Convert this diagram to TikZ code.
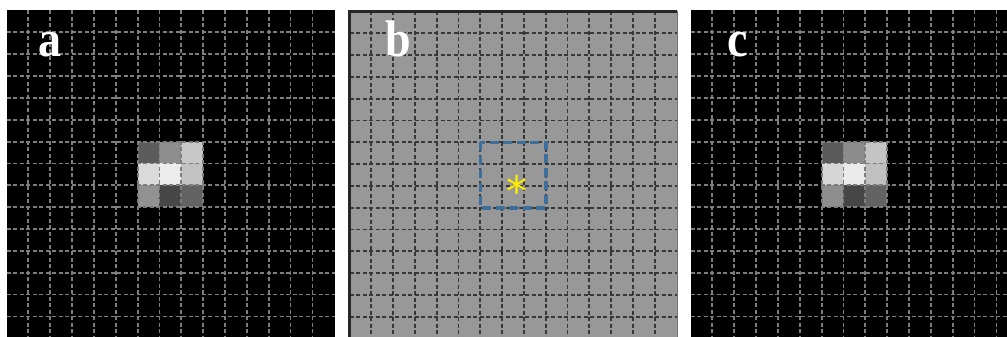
\documentclass[tikz,border=0pt]{standalone}
\usepackage{fontspec}
\setmainfont{Liberation Serif}
\newfontfamily\astfont{DejaVu Sans}
\definecolor{gridA}{RGB}{125,125,125}
\definecolor{gridB}{RGB}{55,55,55}
\definecolor{bgB}{RGB}{152,152,152}
\definecolor{boxblue}{RGB}{62,110,155}
\definecolor{staryellow}{RGB}{255,238,0}
\begin{document}
\begin{tikzpicture}[x=1pt,y=-1pt,
  gridline/.style={line width=1.8pt, dash pattern=on 4pt off 2.5pt},
  panellabel/.style={text=white, font=\fontsize{46}{46}\selectfont\bfseries, anchor=base, inner sep=0pt, yscale=1.12},
  roibox/.style={draw=boxblue, line width=3.6pt, dash pattern=on 9pt off 4.5pt}]
\useasboundingbox (0,0) rectangle (1007,337);
\clip (0,0) rectangle (1007,337);
% ---------- panel a ----------
\def\sa{21.85}
\fill[black] (6.5,10.5) rectangle (335,337);
\foreach \r/\c/\v in {0/0/92, 0/1/142, 0/2/200, 1/0/218, 1/1/236, 1/2/194, 2/0/146, 2/1/71, 2/2/98}{
  \fill[fill={rgb,255:red,\v;green,\v;blue,\v}]
    ({6.5+(6+\c)*\sa},{10.5+(6+\r)*\sa}) rectangle ++(\sa,\sa);
}
\foreach \i in {1,...,14}{
  \draw[gridline, gridA] ({6.5+\i*\sa},10.5) -- ({6.5+\i*\sa},337);
  \draw[gridline, gridA] (6.5,{10.5+\i*\sa}) -- (335,{10.5+\i*\sa});
}
\node[panellabel] (la) at (50,56) {a};
% ---------- panel b ----------
\def\sb{21.8}
\fill[bgB] (349.5,11.5) rectangle (677,337);
\foreach \i in {1,...,14}{
  \draw[gridline, gridB] ({349.5+\i*\sb},11.5) -- ({349.5+\i*\sb},337);
  \draw[gridline, gridB] (349.5,{11.5+\i*\sb}) -- (677,{11.5+\i*\sb});
}
\draw[line width=2.2pt, black!85] (349.5,337) -- (349.5,11.5) -- (677,11.5);
\draw[line width=1pt, black!55] (677,11.5) -- (677,337);
\draw[roibox] ({349.5+6*\sb},{11.5+6*\sb}) rectangle ({349.5+9*\sb},{11.5+9*\sb});
\node[text=staryellow, font=\astfont\fontsize{42}{42}\selectfont, anchor=base, inner sep=0pt] (star) at (517,206) {*};
\node[panellabel] (lb) at (398,56) {b};
% ---------- panel c ----------
\fill[black] (690.5,10.5) rectangle (1007,337);
\foreach \r/\c/\v in {0/0/90, 0/1/140, 0/2/196, 1/0/214, 1/1/234, 1/2/192, 2/0/142, 2/1/70, 2/2/98}{
  \fill[fill={rgb,255:red,\v;green,\v;blue,\v}]
    ({690.5+(6+\c)*\sa},{10.5+(6+\r)*\sa}) rectangle ++(\sa,\sa);
}
\foreach \i in {1,...,14}{
  \draw[gridline, gridA] ({690.5+\i*\sa},10.5) -- ({690.5+\i*\sa},337);
  \draw[gridline, gridA] (690.5,{10.5+\i*\sa}) -- (1007,{10.5+\i*\sa});
}
\node[panellabel] (lc) at (738,56) {c};
\end{tikzpicture}
\end{document}
